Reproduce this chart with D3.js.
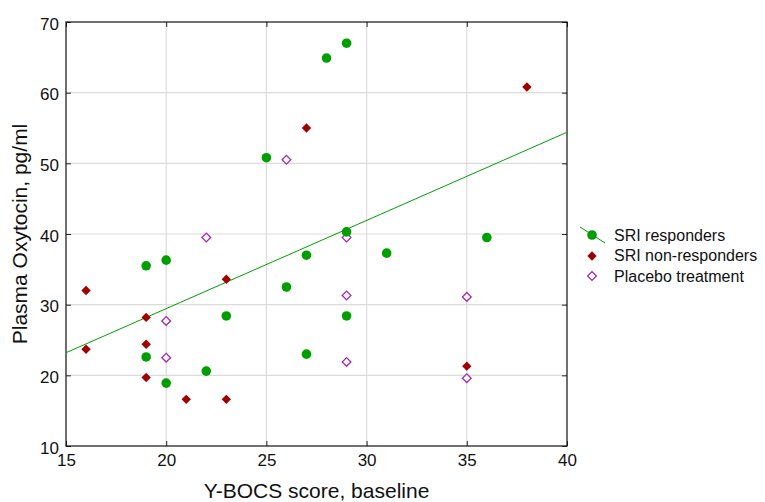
<!DOCTYPE html>
<html>
<head>
<meta charset="utf-8">
<script src="https://cdn.jsdelivr.net/npm/d3@7"></script>
<style>
  body { margin: 0; background: #fff; }
  svg { font-family: "Liberation Sans", Arial, sans-serif; }
</style>
</head>
<body>
<svg id="chart" width="765" height="502"></svg>
<script>
// baseline Y-BOCS score vs plasma oxytocin
const responders = [
  [25, 50.8], [28, 64.9], [29, 67.0], [29, 40.3], [36, 39.5], [27, 37.0],
  [31, 37.3], [26, 32.5], [29, 28.4], [27, 23.0], [19, 35.5], [20, 36.3],
  [23, 28.4], [19, 22.6], [20, 18.9], [22, 20.6]
];
const nonResponders = [
  [27, 55.0], [38, 60.8], [16, 32.0], [16, 23.7], [19, 28.2], [19, 24.4],
  [19, 19.7], [21, 16.6], [23, 16.6], [23, 33.6], [35, 21.3]
];
const placebo = [
  [22, 39.5], [26, 50.5], [20, 27.7], [20, 22.5], [29, 39.5], [29, 31.3],
  [29, 21.9], [35, 31.1], [35, 19.6]
];
// fitted line for responders (end points)
const fitLine = [[15, 23.2], [40, 54.4]];

const xTicks = [15, 20, 25, 30, 35, 40];
const yTicks = [10, 20, 30, 40, 50, 60, 70];
const legendLabels = ["SRI responders", "SRI non-responders", "Placebo treatment"];

const green = "#009f00";
const darkRed = "#a00000";
const purple = "#a528b0";

const margin = {left: 66, top: 22, right: 198, bottom: 56};
const width = 765 - margin.left - margin.right;
const height = 502 - margin.top - margin.bottom;

const svg = d3.select("#chart");
const g = svg.append("g").attr("transform", `translate(${margin.left},${margin.top})`);

const x = d3.scaleLinear().domain([15, 40]).range([0, width]);
const y = d3.scaleLinear().domain([10, 70]).range([height, 0]);

// grid
g.append("g").selectAll("line").data(xTicks.slice(1, -1)).join("line")
  .attr("x1", d => x(d)).attr("x2", d => x(d))
  .attr("y1", 0).attr("y2", height)
  .attr("stroke", "#dcdcdc").attr("stroke-width", 1.2);
g.append("g").selectAll("line").data(yTicks.slice(1, -1)).join("line")
  .attr("y1", d => y(d)).attr("y2", d => y(d))
  .attr("x1", 0).attr("x2", width)
  .attr("stroke", "#dcdcdc").attr("stroke-width", 1.2);

// axes - ticks point inward
const styleAxis = sel => {
  sel.select(".domain").remove();
  sel.selectAll("text").attr("font-size", 17).attr("fill", "#111");
  sel.selectAll(".tick line").attr("stroke", "#222");
};
g.append("g").attr("transform", `translate(0,${height})`)
  .call(d3.axisBottom(x).tickValues(xTicks).tickSize(-5).tickPadding(8))
  .call(styleAxis);
g.append("g")
  .call(d3.axisLeft(y).tickValues(yTicks).tickSize(-5).tickPadding(7))
  .call(styleAxis)
  .selectAll("text").attr("dy", "0.42em");
g.append("g")
  .call(d3.axisTop(x).tickValues(xTicks).tickSize(-5).tickFormat(""))
  .call(styleAxis);
g.append("g").attr("transform", `translate(${width},0)`)
  .call(d3.axisRight(y).tickValues(yTicks).tickSize(-5).tickFormat(""))
  .call(styleAxis);

g.append("rect").attr("width", width).attr("height", height)
  .attr("fill", "none").attr("stroke", "#111").attr("stroke-width", 1.2);

// regression line
const line = d3.line().x(d => x(d[0])).y(d => y(d[1]));
g.append("path").datum(fitLine).attr("d", line)
  .attr("fill", "none").attr("stroke", green).attr("stroke-width", 1);

// square turned 45 degrees gives an even diamond
const filledDiamond = d3.symbol().type(d3.symbolSquare).size(44);
const openDiamond = d3.symbol().type(d3.symbolSquare).size(38);

g.append("g").selectAll("path").data(placebo).join("path")
  .attr("d", openDiamond)
  .attr("transform", d => `translate(${x(d[0])},${y(d[1])}) rotate(45)`)
  .attr("fill", "#fff").attr("stroke", purple).attr("stroke-width", 1.3);

g.append("g").selectAll("path").data(nonResponders).join("path")
  .attr("d", filledDiamond)
  .attr("transform", d => `translate(${x(d[0])},${y(d[1])}) rotate(45)`)
  .attr("fill", darkRed);

g.append("g").selectAll("circle").data(responders).join("circle")
  .attr("cx", d => x(d[0])).attr("cy", d => y(d[1])).attr("r", 4.8)
  .attr("fill", green);

// axis titles
svg.append("text")
  .attr("x", margin.left + width / 2).attr("y", 498)
  .attr("text-anchor", "middle").attr("font-size", 21).attr("fill", "#111")
  .text("Y-BOCS score, baseline");
svg.append("text")
  .attr("transform", `translate(27,${margin.top + height / 2}) rotate(-90)`)
  .attr("text-anchor", "middle").attr("font-size", 21).attr("fill", "#111")
  .text("Plasma Oxytocin, pg/ml");

// legend
const leg = svg.append("g").attr("transform", "translate(592,235)");
leg.append("line").attr("x1", -12).attr("y1", -8).attr("x2", 13).attr("y2", 8)
  .attr("stroke", green).attr("stroke-width", 1);
leg.append("circle").attr("r", 4.8).attr("fill", green);
leg.append("path").attr("d", filledDiamond)
  .attr("transform", "translate(0,21) rotate(45)").attr("fill", darkRed);
leg.append("path").attr("d", openDiamond)
  .attr("transform", "translate(0,41) rotate(45)")
  .attr("fill", "#fff").attr("stroke", purple).attr("stroke-width", 1.3);
leg.selectAll("text").data(legendLabels).join("text")
  .attr("x", 22).attr("y", (d, i) => i * 20.5)
  .attr("dy", "0.36em").attr("font-size", 16).attr("fill", "#111")
  .text(d => d);
</script>
</body>
</html>
